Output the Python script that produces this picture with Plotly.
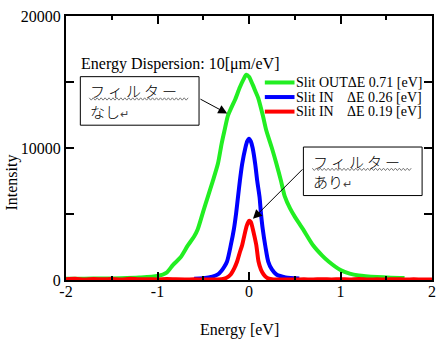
import plotly.graph_objects as go

# ---- data ----
green_x = [-2.0,-1.8,-1.6,-1.4,-1.2,-1.0,-0.9,-0.83,-0.75,-0.67,-0.6,-0.56,
           -0.5,-0.45,-0.4,-0.34,-0.3,-0.27,-0.23,-0.19,-0.15,-0.1,-0.06,-0.03,
           0.0,0.04,0.07,0.1,0.15,0.19,0.25,0.3,0.35,0.39,0.45,0.5,
           0.59,0.7,0.8,0.87,1.0,1.1,1.2,1.4,1.55,1.7]
green_y = [90,100,110,130,180,300,560,1150,1700,2600,3300,3850,
           5200,6300,7400,8800,10300,11250,12450,13100,13700,14600,15200,15550,
           15400,14800,14300,13800,12500,11300,10000,8800,7500,6350,5400,4800,
           3850,2630,1850,1400,750,480,340,220,170,150]

blue_x = [-0.6,-0.5,-0.4,-0.34,-0.3,-0.27,-0.24,-0.2,-0.165,-0.14,-0.12,-0.1,-0.075,
          -0.04,-0.02,0.0,0.02,0.04,0.068,0.09,0.115,0.13,0.15,0.18,0.21,0.25,0.3,0.4,0.55]
blue_y = [100,130,250,420,700,1000,1400,2600,3860,5100,6300,7500,8780,
          10000,10500,10700,10500,10000,8780,7500,6300,5100,3860,2500,1400,800,420,200,120]

red_x = [-2.0,-1.9,-1.8,-1.7,-1.6,-1.5,-1.4,-1.3,-1.2,-1.1,-1.0,-0.9,-0.8,-0.7,-0.6,-0.5,-0.4,
         -0.3,-0.25,-0.2,-0.16,-0.13,-0.1,-0.075,-0.05,-0.025,
         0.0,0.02,0.04,0.06,0.08,0.104,0.13,0.16,0.2,0.25,
         0.3,0.4,0.5,0.6,0.7,0.8,0.9,1.0,1.1,1.2,1.3,1.4,1.5,1.6,1.7,1.8,1.9,2.0]
red_y = [60,90,40,80,50,70,40,90,50,60,40,70,50,40,50,40,45,
         60,150,420,900,1400,2100,2630,3400,4100,
         4480,4400,3900,3300,2630,1400,800,420,150,60,
         40,45,40,50,40,60,40,55,40,70,40,50,40,60,40,50,40,45]

series_names = ["Slit OUT", "Slit IN", "Slit IN"]
series_de = ["ΔE 0.71 [eV]", "ΔE 0.26 [eV]", "ΔE 0.19 [eV]"]
series_colors = ["#22ee22", "#0000ff", "#ff0000"]

x_ticks = [-2, -1, 0, 1, 2]
x_minor = [-1.5, -0.5, 0.5, 1.5]
y_ticks = [0, 5000, 10000, 15000, 20000]
y_ticktext = ["0", "", "10000", "", "20000"]

SERIF = "Liberation Serif"
JP = "Noto Sans CJK JP"

W, H = 444, 343
L, R, T, B = 66, 8, 8, 63
PW, PH = W - L - R, H - T - B

def px(x):
    return (x - L) / PW

def py(y):
    return (H - B - y) / PH

fig = go.Figure()
for xs, ys, c, n in [(green_x, green_y, series_colors[0], series_names[0]),
                     (blue_x, blue_y, series_colors[1], series_names[1]),
                     (red_x, red_y, series_colors[2], series_names[2])]:
    fig.add_trace(go.Scatter(x=xs, y=ys, mode="lines", name=n,
                             line=dict(color=c, width=4, shape="spline", smoothing=0.7),
                             showlegend=False))

shapes = []
annotations = []

# manual legend
leg_y = [76.5, 91.5, 106.5]
for i in range(3):
    shapes.append(dict(type="line", xref="paper", yref="paper",
                       x0=px(267), x1=px(297), y0=py(leg_y[i]), y1=py(leg_y[i]),
                       line=dict(color=series_colors[i], width=4)))
    if i == 0:
        annotations.append(dict(xref="paper", yref="paper", x=px(297.5), y=py(leg_y[i]),
                                text=series_names[i] + series_de[i], showarrow=False,
                                xanchor="left", yanchor="middle", borderpad=0,
                                font=dict(family=SERIF, size=14, color="black")))
    else:
        annotations.append(dict(xref="paper", yref="paper", x=px(297.5), y=py(leg_y[i]),
                                text=series_names[i], showarrow=False,
                                xanchor="left", yanchor="middle", borderpad=0,
                                font=dict(family=SERIF, size=14, color="black")))
        annotations.append(dict(xref="paper", yref="paper", x=px(349), y=py(leg_y[i]),
                                text=series_de[i], showarrow=False,
                                xanchor="left", yanchor="middle", borderpad=0,
                                font=dict(family=SERIF, size=14, color="black")))

# Energy dispersion note
annotations.append(dict(xref="paper", yref="paper", x=px(79), y=py(57),
                        text="Energy Dispersion: 10[μm/eV]", showarrow=False,
                        xanchor="left", yanchor="middle",
                        font=dict(family=SERIF, size=16, color="black")))

# callout boxes
katakana = "\u2009".join("フィルター")
boxes = [(80.5, 70.5, 200.5, 120.5, "なし"), (306, 143, 426, 193, "あり")]
for (x0, y0, x1, y1, word) in boxes:
    shapes.append(dict(type="rect", xref="paper", yref="paper",
                       x0=px(x0), x1=px(x1), y0=py(y0), y1=py(y1),
                       line=dict(color="black", width=1), fillcolor="white", layer="above"))
    tx = x0 + 9
    annotations.append(dict(xref="paper", yref="paper", x=px(tx), y=py(y0 + 14.5),
                            text=katakana, showarrow=False, xanchor="left",
                            yanchor="middle", borderpad=0,
                            font=dict(family=JP, size=15, color="black", weight=300)))
    annotations.append(dict(xref="paper", yref="paper", x=px(tx), y=py(y0 + 35.5),
                            text=word + "<span style='font-size:11px;color:#444'>↵</span>",
                            showarrow=False, xanchor="left", yanchor="middle", borderpad=0,
                            font=dict(family=JP, size=15, color="black", weight=300)))
    # wavy underline
    wy = y0 + 23
    pts = []
    xx = tx
    k = 0
    while xx <= tx + 100:
        yy = wy + (1.2 if k % 2 else -1.2)
        pts.append((px(xx), py(yy)))
        xx += 2
        k += 1
    path = "M " + " L ".join(f"{a:.5f},{b:.5f}" for a, b in pts)
    shapes.append(dict(type="path", xref="paper", yref="paper", path=path,
                       line=dict(color="#777777", width=1), layer="above"))

# arrows
annotations.append(dict(xref="paper", yref="paper", x=px(229), y=py(108.5),
                        ax=200.7 - 229, ay=93.3 - 108.5, axref="pixel", ayref="pixel",
                        text="", showarrow=True, arrowhead=2, arrowsize=1.8,
                        arrowwidth=1, arrowcolor="black", standoff=0))
annotations.append(dict(xref="paper", yref="paper", x=px(255), y=py(217),
                        ax=306 - 255, ay=166 - 217, axref="pixel", ayref="pixel",
                        text="", showarrow=True, arrowhead=2, arrowsize=1.8,
                        arrowwidth=1, arrowcolor="black", standoff=0))

# axis titles
annotations.append(dict(xref="paper", yref="paper", x=px(241), y=py(331),
                        text="Energy [eV]", showarrow=False, xanchor="center", yanchor="middle",
                        font=dict(family=SERIF, size=16, color="black")))
annotations.append(dict(xref="paper", yref="paper", x=px(11), y=py(180),
                        text="Intensity", showarrow=False, xanchor="center", yanchor="middle",
                        textangle=-90, font=dict(family=SERIF, size=16, color="black")))

axis_common = dict(showline=True, linecolor="black", linewidth=2, mirror="ticks",
                   ticks="inside", ticklen=8, tickwidth=1.5, tickcolor="black",
                   showgrid=False, zeroline=False,
                   tickfont=dict(family=SERIF, size=16, color="black"))

fig.update_layout(
    width=W, height=H,
    margin=dict(l=L, r=R, t=T, b=B),
    paper_bgcolor="white", plot_bgcolor="white",
    xaxis=dict(range=[-2, 2], tickvals=x_ticks, ticktext=[str(v) for v in x_ticks],
               ticklabelstandoff=-4,
               minor=dict(tickvals=x_minor, ticks="inside", ticklen=4, tickwidth=1.5,
                          tickcolor="black"),
               **axis_common),
    yaxis=dict(range=[0, 20000], tickvals=y_ticks, ticktext=y_ticktext, **axis_common),
    shapes=shapes, annotations=annotations, showlegend=False,
)

fig.write_html("out.html")
